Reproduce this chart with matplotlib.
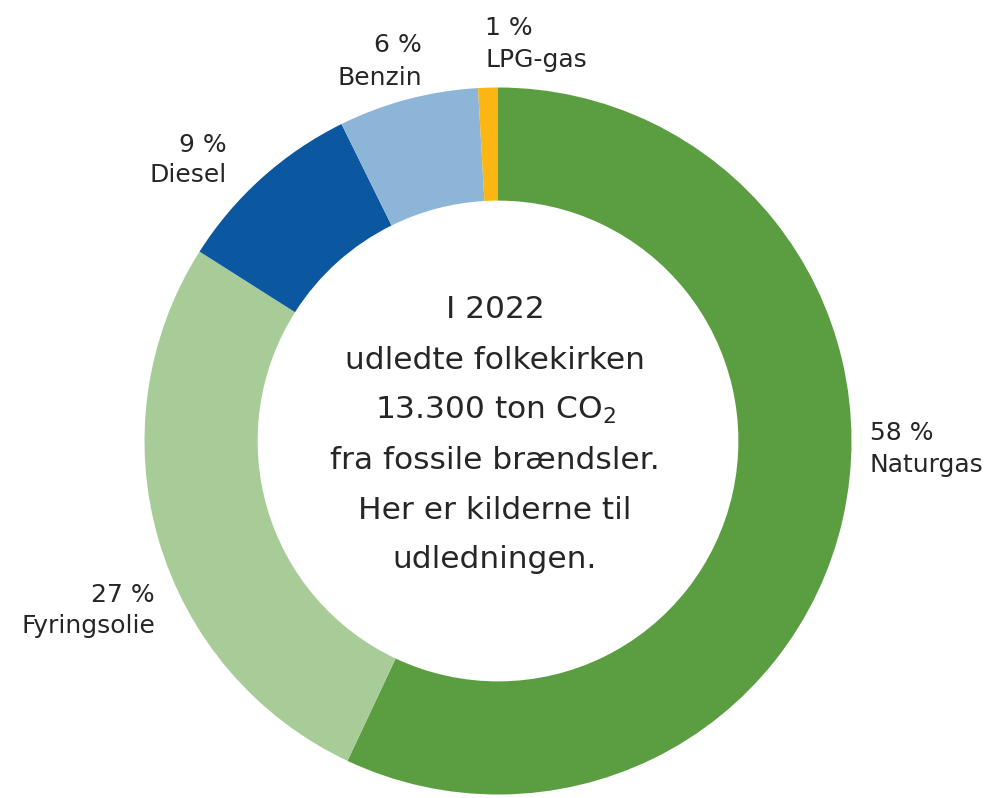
import matplotlib
matplotlib.use("Agg")
import matplotlib.pyplot as plt

# Data
categories = ["Naturgas", "Fyringsolie", "Diesel", "Benzin", "LPG-gas"]
shares = [57.0, 27.0, 8.7, 6.4, 0.9]
pct_labels = ["58 %", "27 %", "9 %", "6 %", "1 %"]
colors = ["#5b9e41", "#a7cc98", "#0b57a0", "#8db5d8", "#fbb614"]
center_lines = ["I 2022", "udledte folkekirken", "13.300 ton CO$_2$",
                "fra fossile brændsler.", "Her er kilderne til", "udledningen."]

W, H = 994, 798
fig = plt.figure(figsize=(W / 100, H / 100), dpi=100)
fig.patch.set_facecolor("white")

cx, cy, R = 498, 441, 353.5
ax = fig.add_axes([(cx - R) / W, (H - cy - R) / H, 2 * R / W, 2 * R / H])
ax.pie(shares, colors=colors, startangle=90, counterclock=False,
       wedgeprops=dict(width=0.32, edgecolor="none"), radius=1.0)
ax.set_xlim(-1, 1)
ax.set_ylim(-1, 1)
ax.set_aspect("equal")
ax.axis("off")

txt_color = "#262626"
fs = 18

def ftext(x, y, s, ha, size=fs):
    fig.text(x / W, 1 - y / H, s, ha=ha, va="baseline", fontsize=size,
             color=txt_color, family="DejaVu Sans")

# label positions (pixel baselines) for each category
label_pos = {
    "Naturgas": (870, 440, 472, "left"),
    "Fyringsolie": (155, 602, 633, "right"),
    "Diesel": (227, 152, 182, "right"),
    "Benzin": (422, 52, 85, "right"),
    "LPG-gas": (485, 35, 67, "left"),
}
for cat, pct in zip(categories, pct_labels):
    x, y1, y2, ha = label_pos[cat]
    ftext(x, y1, pct, ha)
    ftext(x, y2, cat, ha)

baselines = [318, 369, 419, 469, 519, 568]
for line, yb in zip(center_lines, baselines):
    ftext(495, yb, line, "center", size=22.5)

fig.savefig("out.png", dpi=100, facecolor="white")
